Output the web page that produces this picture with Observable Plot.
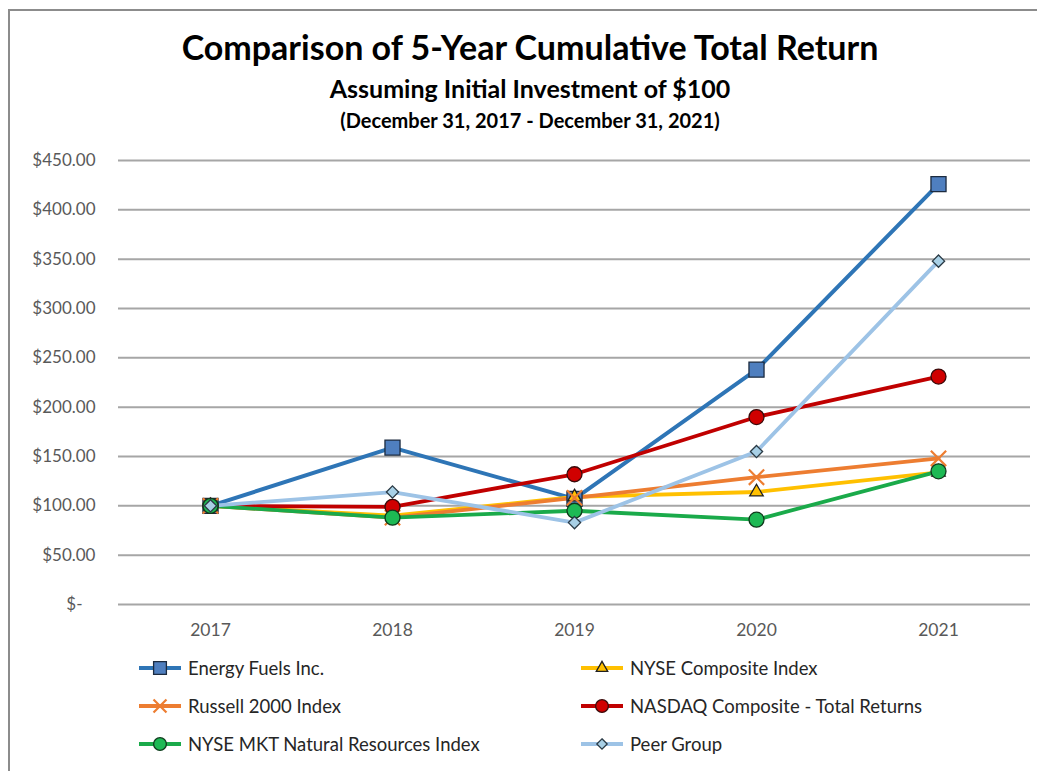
<!DOCTYPE html>
<html>
<head>
<meta charset="utf-8">
<script src="https://cdn.jsdelivr.net/npm/d3@7"></script>
<script src="https://cdn.jsdelivr.net/npm/@observablehq/plot@0.6"></script>
<style>
  html, body { margin: 0; padding: 0; background: #fff; }
  #wrap { position: relative; width: 1037px; height: 771px; overflow: hidden; font-family: Lato, "Noto Sans", sans-serif; }
  #frame { position: absolute; left: 8px; top: 9px; width: 1100px; height: 800px; border-left: 2px solid #8c8c8c; border-top: 2px solid #8c8c8c; box-sizing: border-box; }
  .t { position: absolute; left: 0; width: 1060px; text-align: center; font-weight: bold; color: #000; white-space: nowrap; line-height: 1.2; }
  #chart { position: absolute; left: 0; top: 0; }
  .leg { position: absolute; display: flex; align-items: center; font-size: 18.5px; color: #262626; white-space: nowrap; }
  .leg svg { margin-right: 6px; }
</style>
</head>
<body>
<div id="wrap">
  <div id="frame"></div>
  <div id="chart"></div>
  <div class="t" style="top:27px;font-size:34px;">Comparison of 5-Year Cumulative Total Return</div>
  <div class="t" style="top:73px;font-size:25px;">Assuming Initial Investment of $100</div>
  <div class="t" style="top:108px;font-size:20px;">(December 31, 2017 - December 31, 2021)</div>
  <div id="legend"></div>
</div>
<script>
const years = ["2017", "2018", "2019", "2020", "2021"];
const yTicks = [0, 50, 100, 150, 200, 250, 300, 350, 400, 450];

const seriesNames = [
  "Energy Fuels Inc.",
  "NYSE Composite Index",
  "Russell 2000 Index",
  "NASDAQ Composite - Total Returns",
  "NYSE MKT Natural Resources Index",
  "Peer Group"
];
const energyFuels   = [100, 159, 107, 238, 426];
const nyseComposite = [100, 90, 109, 114, 134];
const russell2000   = [100, 88, 108, 129, 148];
const nasdaq        = [100, 99, 132, 190, 231];
const nyseMkt       = [100, 88, 95, 86, 135];
const peerGroup     = [100, 114, 83, 155, 348];
const seriesValues = [energyFuels, nyseComposite, russell2000, nasdaq, nyseMkt, peerGroup];

const styles = [
  {line: "#2E75B6", fill: "#4F7FBF", stroke: "#1c2b3f", symbol: "square", r: 8.5, sw: 4},
  {line: "#FFC000", fill: "#FFC000", stroke: "#202020", symbol: "triangle", r: 5, sw: 3.8},
  {line: "#ED7D31", fill: "none", stroke: "#ED7D31", symbol: "times", r: 7, sw: 3.8, mstroke: 2.2},
  {line: "#C00000", fill: "#D00000", stroke: "#3a0a0a", symbol: "circle", r: 7.5, sw: 3.8},
  {line: "#1AAA4A", fill: "#1DB954", stroke: "#0f3a1c", symbol: "circle", r: 7.5, sw: 3.8},
  {line: "#9DC3E6", fill: "#A8D0E6", stroke: "#2a3a45", symbol: "diamond2", r: 5.5, sw: 3.8}
];

const table = [];
seriesNames.forEach((name, i) => {
  years.forEach((y, j) => table.push({series: name, idx: i, year: y, value: seriesValues[i][j]}));
});

const marks = [
  Plot.gridY(yTicks, {stroke: "#a6a6a6", strokeOpacity: 1, strokeWidth: 2}),
  Plot.axisY(yTicks, {tickSize: 0, tickPadding: 23, fontSize: 17, fill: "#595959",
    tickFormat: d => d === 0 ? "$-   " : "$" + d.toFixed(2)}),
  Plot.axisX({tickSize: 0, tickPadding: 19, fontSize: 17.5, fill: "#595959"})
];
seriesNames.forEach((name, i) => {
  const s = styles[i];
  const data = table.filter(d => d.idx === i);
  marks.push(Plot.line(data, {x: "year", y: "value", stroke: s.line, strokeWidth: s.sw}));
});
seriesNames.forEach((name, i) => {
  const s = styles[i];
  const data = table.filter(d => d.idx === i);
  marks.push(Plot.dot(data, {x: "year", y: "value", symbol: () => s.symbol, r: s.r,
    fill: s.fill, stroke: s.stroke, strokeWidth: s.mstroke || 1.3}));
});

const chart = Plot.plot({
  width: 1037,
  height: 660,
  marginTop: 160,
  marginBottom: 56,
  marginLeft: 118,
  marginRight: 7,
  style: {fontFamily: "Lato, 'Noto Sans', sans-serif", background: "transparent"},
  x: {type: "point", domain: years, padding: 0.5, label: null},
  y: {domain: [0, 450], label: null},
  symbol: {type: "identity"},
  marks
});
document.getElementById("chart").appendChild(chart);

// Legend
const legPos = [
  {x: 138, y: 668}, {x: 580, y: 668},
  {x: 138, y: 706}, {x: 580, y: 706},
  {x: 138, y: 744}, {x: 580, y: 744}
];
const symMap = {square: d3.symbolSquare, triangle: d3.symbolTriangle, times: d3.symbolTimes,
  circle: d3.symbolCircle, diamond2: d3.symbolDiamond2};
const legend = d3.select("#legend");
seriesNames.forEach((name, i) => {
  const s = styles[i];
  const p = legPos[i];
  const item = legend.append("div").attr("class", "leg")
    .style("left", p.x + "px").style("top", (p.y - 12) + "px").style("height", "24px");
  const svg = item.append("svg").attr("width", 44).attr("height", 22);
  svg.append("line").attr("x1", 1).attr("x2", 43).attr("y1", 11).attr("y2", 11)
    .attr("stroke", s.line).attr("stroke-width", s.sw);
  const r = s.r * 0.85;
  svg.append("path").attr("transform", "translate(22,11)")
    .attr("d", d3.symbol(symMap[s.symbol], Math.PI * r * r)())
    .attr("fill", s.fill).attr("stroke", s.stroke).attr("stroke-width", s.mstroke || 1.3);
  item.append("span").text(name);
});
</script>
</body>
</html>
